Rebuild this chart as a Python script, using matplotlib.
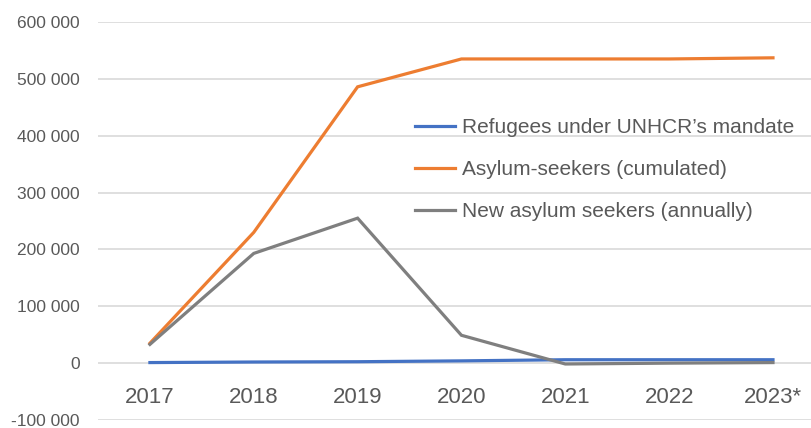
import matplotlib
matplotlib.use("Agg")
import matplotlib.pyplot as plt
from matplotlib.ticker import FuncFormatter

years = ["2017", "2018", "2019", "2020", "2021", "2022", "2023*"]
refugees = [1000, 2000, 2500, 4000, 6000, 6000, 6000]
asylum_cumulated = [35000, 230000, 486000, 535000, 535000, 535000, 537000]
asylum_new = [33000, 193000, 255000, 49000, -1500, 0, 1000]
series_labels = ["Refugees under UNHCR\u2019s mandate",
                 "Asylum-seekers (cumulated)",
                 "New asylum seekers (annually)"]
y_ticks = [-100000, 0, 100000, 200000, 300000, 400000, 500000, 600000]

colors = ["#4472C4", "#ED7D31", "#7F7F7F"]
text_color = "#595959"

plt.rcParams['font.family'] = ['Liberation Sans', 'DejaVu Sans']

W, H = 812, 428
fig = plt.figure(figsize=(W / 100, H / 100), dpi=100)
left, right, top, bottom = 98, 812, 22, 420
ax = fig.add_axes([left / W, 1 - bottom / H, (right - left) / W, (bottom - top) / H])

x = list(range(len(years)))
for vals, c, lab in zip([refugees, asylum_cumulated, asylum_new], colors, series_labels):
    ax.plot(x, vals, color=c, lw=2.3, label=lab, solid_joinstyle='miter', zorder=3)

ax.set_xlim(-0.5, (right - 150) / 103.83)
ax.set_ylim(-100000, 600000)
ax.set_yticks(y_ticks)
ax.yaxis.set_major_formatter(FuncFormatter(lambda v, p: f"{int(v):,}".replace(",", " ")))
ax.grid(axis='y', color="#D9D9D9", lw=1.2, zorder=0)
ax.set_axisbelow(True)

for s in ['top', 'right', 'left']:
    ax.spines[s].set_visible(False)
ax.spines['bottom'].set_position(('data', 0))
ax.spines['bottom'].set_visible(False)

ax.set_xticks(x)
ax.set_xticklabels(years)
ax.tick_params(axis='x', length=0, pad=17, labelsize=16, labelcolor=text_color)
ax.tick_params(axis='y', length=0, pad=13, labelsize=12.5, labelcolor=text_color)

leg = ax.legend(loc='upper left', bbox_to_anchor=(415 / W, 1 - 118 / H),
                bbox_transform=fig.transFigure, frameon=False, fontsize=15,
                handlelength=1.9, handletextpad=0.35, labelspacing=1.1,
                borderpad=0, borderaxespad=0)
for t in leg.get_texts():
    t.set_color(text_color)

fig.savefig("out.png", dpi=100)
